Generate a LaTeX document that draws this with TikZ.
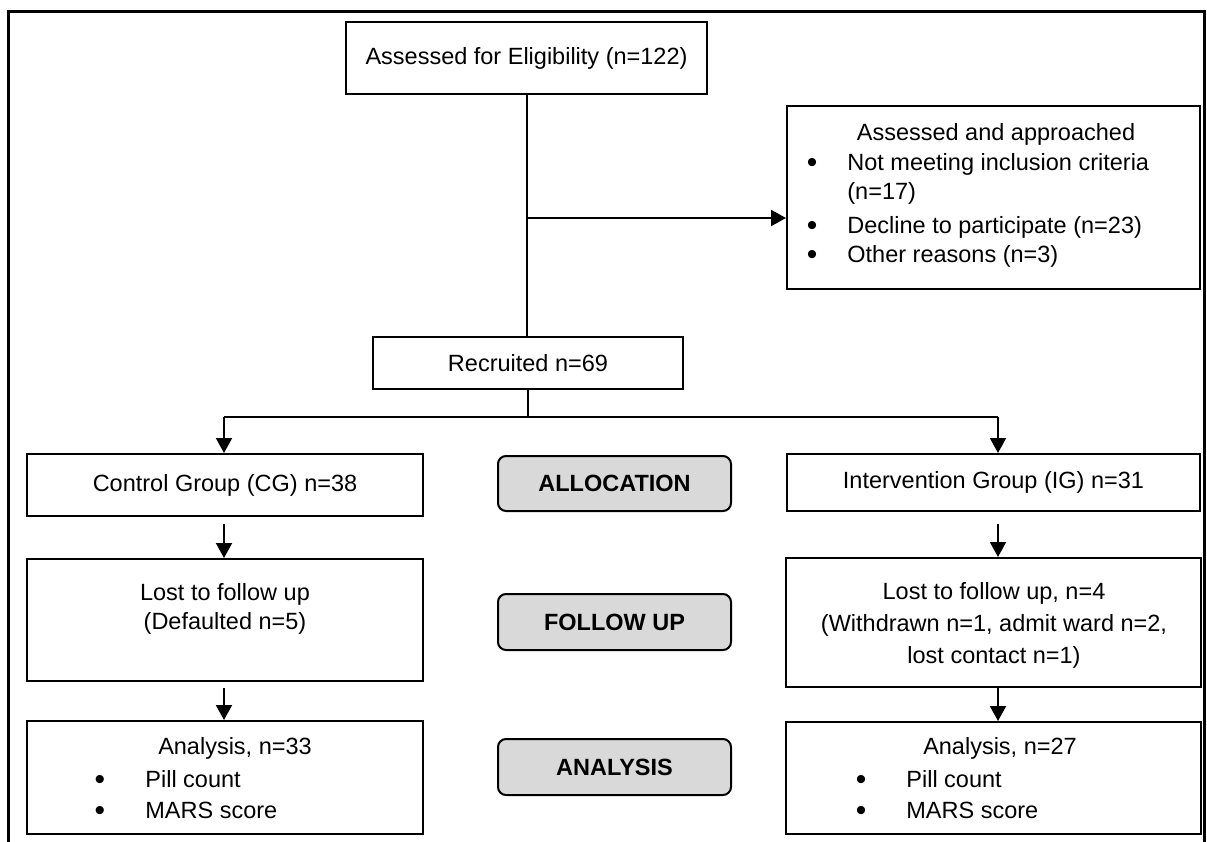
\documentclass[tikz,border=0pt]{standalone}
\usepackage{fontspec}
\setmainfont{Liberation Sans}
\usetikzlibrary{arrows.meta}
\newcommand\fsz{\fontsize{11.75}{14}\selectfont}
\definecolor{phasegray}{RGB}{217,217,217}
% #1 style, #2 name, #3 x1, #4 y1, #5 x2, #6 y2 (pixels)
\newcommand\mkbox[6]{\node[#1, minimum width={(#5-#3)*0.5pt}, minimum height={(#6-#4)*0.5pt}] (#2) at ({(#3+#5)/2},{(#4+#6)/2})}
\begin{document}
\begin{tikzpicture}[x=0.5pt,y=-0.5pt,
  box/.style={draw, line width=1pt, inner sep=0pt, font=\fsz},
  phase/.style={box, rounded corners=4pt, fill=phasegray, font=\fsz\bfseries},
  txt/.style={inner sep=0pt, font=\fsz, anchor=base},
  ltxt/.style={inner sep=0pt, font=\fsz, anchor=base west},
  bul/.style={inner sep=0pt, font=\fontsize{15}{15}\selectfont, anchor=base},
  conn/.style={line width=1pt},
  arr/.style={line width=1pt, -{Triangle[width=8pt,length=7.5pt]}}]
\useasboundingbox (0,0) rectangle (1207,842);
% outer frame
\draw[line width=1.5pt] (8,842) -- (8,11) -- (1204,11) -- (1204,842);

% boxes
\mkbox{box}{elig}{346}{22}{707}{94}{Assessed for Eligibility (n=122)};
\mkbox{box}{excl}{787}{106}{1200}{289}{};
\mkbox{box}{recr}{373}{337}{683}{389}{Recruited n=69};
\mkbox{box}{cg}{27}{454}{423}{516}{Control Group (CG) n=38};
\mkbox{phase}{alloc}{498}{456}{731}{511}{ALLOCATION};
\mkbox{box}{ig}{787}{454}{1200}{511}{Intervention Group (IG) n=31};
\mkbox{box}{cglost}{27}{559}{423}{681}{};
\mkbox{phase}{follow}{498}{594}{731}{650}{FOLLOW UP};
\mkbox{box}{iglost}{786}{558}{1201}{687}{};
\mkbox{box}{cgana}{27}{721}{423}{834}{};
\mkbox{phase}{ana}{498}{739}{731}{795}{ANALYSIS};
\mkbox{box}{igana}{786}{722}{1201}{834}{};

% excluded text
\node[txt] (ex0) at (996,140) {Assessed and approached};
\node[bul] (exb1) at (812,172) {•};
\node[ltxt] (ex1) at (847,170) {Not meeting inclusion criteria};
\node[ltxt] (ex1b) at (847,199) {(n=17)};
\node[bul] (exb2) at (812,235) {•};
\node[ltxt] (ex2) at (847,233) {Decline to participate (n=23)};
\node[bul] (exb3) at (812,264) {•};
\node[ltxt] (ex3) at (847,262) {Other reasons (n=3)};

% CG lost text
\node[txt] (cgl1) at (225,600) {Lost to follow up};
\node[txt] (cgl2) at (225,629) {(Defaulted n=5)};

% IG lost text
\node[txt] (igl1) at (994,599) {Lost to follow up, n=4};
\node[txt] (igl2) at (994,631) {(Withdrawn n=1, admit ward n=2,};
\node[txt] (igl3) at (994,663) {lost contact n=1)};

% CG analysis text
\node[txt] (cga0) at (235,754) {Analysis, n=33};
\node[bul] (cgab1) at (100,789) {•};
\node[ltxt] (cga1) at (145,787) {Pill count};
\node[bul] (cgab2) at (100,820) {•};
\node[ltxt] (cga2) at (145,818) {MARS score};

% IG analysis text
\node[txt] (iga0) at (1000,754) {Analysis, n=27};
\node[bul] (igab1) at (861,789) {•};
\node[ltxt] (iga1) at (906,787) {Pill count};
\node[bul] (igab2) at (861,820) {•};
\node[ltxt] (iga2) at (906,818) {MARS score};

% connectors
\draw[conn] (elig.south) -- (elig.south |- recr.north);
\coordinate (branch) at (526.5,218);
\draw[arr] (branch) -- (branch -| excl.west);
\coordinate (split) at (528,417);
\draw[conn] (recr.south) -- (split);
\coordinate (cgin) at (224,417);
\coordinate (igin) at (998,417);
\draw[conn] (cgin) -- (igin);
\draw[arr] (cgin) -- (cgin |- cg.north);
\draw[arr] (igin) -- (igin |- ig.north);
\draw[arr, shorten <=3.5pt] (cgin |- cg.south) -- (cgin |- cglost.north);
\draw[arr, shorten <=6pt] (igin |- ig.south) -- (igin |- iglost.north);
\draw[arr, shorten <=3pt] (cgin |- cglost.south) -- (cgin |- cgana.north);
\draw[arr] (igin |- iglost.south) -- (igin |- igana.north);
\end{tikzpicture}
\end{document}
